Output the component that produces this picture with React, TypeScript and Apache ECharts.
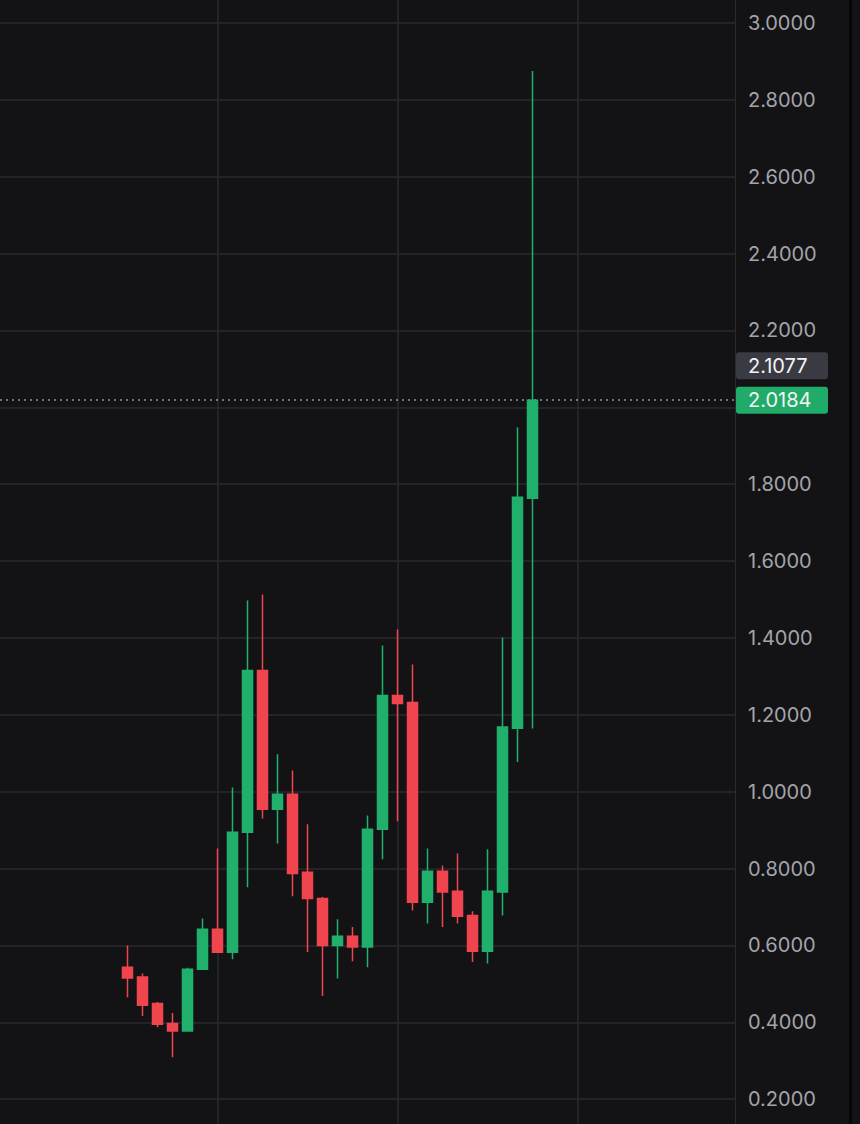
import React, { useEffect, useRef } from "react";
import * as echarts from "echarts";

// OHLC values (28 periods)
const opens = [0.543, 0.518, 0.449, 0.397, 0.377, 0.538, 0.642, 0.582, 0.894, 1.315, 0.954, 0.993, 0.79, 0.722, 0.6, 0.624, 0.596, 0.902, 1.25, 1.232, 0.712, 0.793, 0.741, 0.678, 0.585, 0.739, 1.165, 1.763];
const closes = [0.515, 0.444, 0.395, 0.377, 0.538, 0.642, 0.582, 0.894, 1.315, 0.954, 0.993, 0.787, 0.722, 0.6, 0.624, 0.596, 0.902, 1.25, 1.229, 0.712, 0.793, 0.739, 0.676, 0.585, 0.741, 1.168, 1.766, 2.0184];
const lows = [0.465, 0.416, 0.387, 0.309, 0.375, 0.537, 0.58, 0.564, 0.751, 0.93, 0.865, 0.728, 0.583, 0.468, 0.514, 0.559, 0.543, 0.824, 0.923, 0.691, 0.657, 0.648, 0.657, 0.557, 0.553, 0.678, 1.077, 1.164];
const highs = [0.6, 0.527, 0.453, 0.424, 0.542, 0.67, 0.852, 1.011, 1.497, 1.513, 1.097, 1.055, 0.915, 0.726, 0.668, 0.648, 0.938, 1.38, 1.422, 1.331, 0.852, 0.808, 0.839, 0.689, 0.85, 1.401, 1.948, 2.875];

const leadingSlots = 8;
const trailingSlots = 13;
const gridSlotIndices = [14, 26, 38];
const lastPrice = 2.0184;
const markPrice = 2.1077;
const coveredTick = 2.0; // axis label hidden behind the last-price box
const yTicks = { min: 0, max: 3.2, interval: 0.2 };

const GREEN = "#21b06b";
const RED = "#f0454f";
const BG = "#131316";
const GRID = "#242428";

export default function App() {
  const ref = useRef<HTMLDivElement>(null);

  useEffect(() => {
    document.body.style.margin = "0";
    const chart = echarts.init(ref.current!, undefined, { renderer: "svg" });
    const total = leadingSlots + opens.length + trailingSlots;
    const categories: string[] = [];
    for (let i = 0; i < total; i++) categories.push("P" + (i + 1));
    const data: any[] = [];
    for (let i = 0; i < leadingSlots; i++) data.push("-");
    for (let i = 0; i < opens.length; i++) data.push([opens[i], closes[i], lows[i], highs[i]]);
    for (let i = 0; i < trailingSlots; i++) data.push("-");

    const boxLabel = (bg: string, value: number) => ({
      show: true,
      position: "end",
      distance: 1,
      formatter: value.toFixed(4),
      backgroundColor: bg,
      color: "#f4f4f6",
      fontFamily: "Inter",
      fontSize: 20,
      lineHeight: 20,
      width: 68,
      padding: [4, 12, 3, 12],
      borderRadius: 3,
      opacity: 1,
    });

    chart.setOption({
      animation: false,
      backgroundColor: BG,
      grid: { left: 0, right: 125, top: 0, bottom: 0, containLabel: false, outerBoundsMode: "none" },
      xAxis: {
        type: "category",
        data: categories,
        boundaryGap: true,
        axisLine: { show: false },
        axisTick: { show: false },
        axisLabel: { show: false },
        splitLine: { show: false },
      },
      yAxis: {
        type: "value",
        position: "right",
        min: yTicks.min,
        max: yTicks.max,
        interval: yTicks.interval,
        axisLine: { show: true, lineStyle: { color: "#2a2a2f", width: 1 } },
        axisTick: { show: false },
        axisLabel: {
          margin: 13,
          color: "#a4a4aa",
          fontFamily: "Inter",
          fontSize: 20,
          showMinLabel: false,
          showMaxLabel: false,
          formatter: (v: number) => (Math.abs(v - coveredTick) < 1e-6 ? "" : v.toFixed(4)),
        },
        splitLine: { show: true, lineStyle: { color: GRID, width: 2 } },
      },
      graphic: [
        { type: "rect", right: 8, top: 0, shape: { width: 3, height: 1230 }, style: { fill: "#070709" }, z: 10 },
      ],
      series: [
        {
          type: "candlestick",
          data,
          barWidth: 11,
          clip: false,
          itemStyle: {
            color: GREEN,
            color0: RED,
            borderColor: GREEN,
            borderColor0: RED,
            borderWidth: 1.5,
          },
          markLine: {
            z: 1,
            silent: true,
            precision: 4,
            symbol: ["none", "none"],
            animation: false,
            data: [
              ...gridSlotIndices.map((i) => ({
                xAxis: categories[i],
                lineStyle: { color: GRID, type: "solid", width: 2 },
                label: { show: false },
              })),
              {
                yAxis: markPrice,
                lineStyle: { color: "rgba(0,0,0,0)", width: 0 },
                label: boxLabel("#3a3a42", markPrice),
              },
              {
                yAxis: lastPrice,
                lineStyle: { color: "#6fa893", type: [2, 4], width: 1.5 },
                label: boxLabel("#21ab69", lastPrice),
              },
            ],
          },
        },
      ],
    });
    return () => chart.dispose();
  }, []);

  return (
    <div style={{ position: "fixed", left: 0, top: 0, width: 860, height: 1124, overflow: "hidden", background: BG }}>
      <div ref={ref} style={{ position: "absolute", left: 0, top: -54, width: 860, height: 1230 }} />
    </div>
  );
}
